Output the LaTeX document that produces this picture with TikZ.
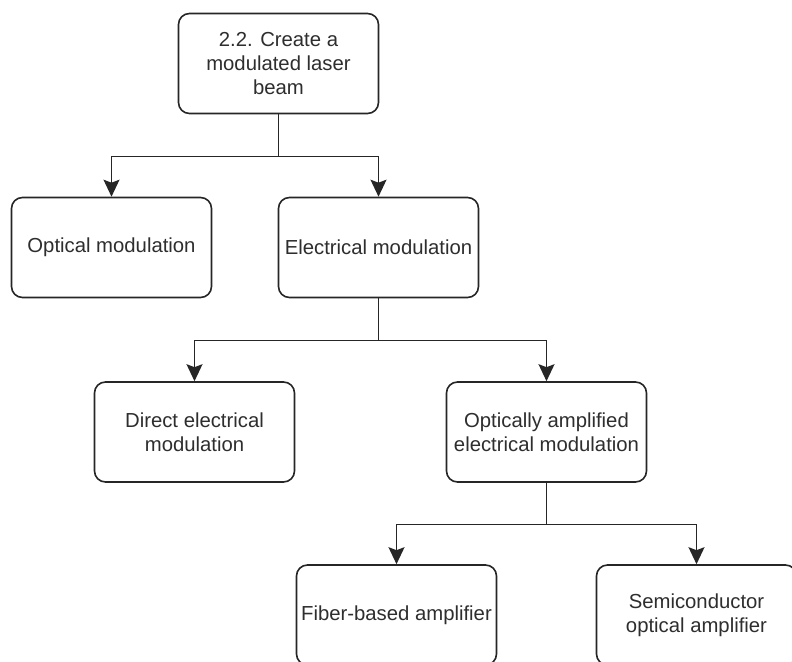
\documentclass[tikz,border=0pt]{standalone}
\usepackage{fontspec}
\setmainfont{Liberation Sans}
\usetikzlibrary{arrows.meta}
\begin{document}
\begin{tikzpicture}[x=1pt,y=-1pt,
  box/.style={draw=black!85,line width=1.6pt,rounded corners=11pt,fill=white,
    minimum width=200pt,minimum height=100pt,inner sep=0pt,align=center,
    text=black!82,font=\fontsize{20.3}{24}\selectfont},
  arr/.style={draw=black!85,line width=1.6pt,-{Stealth[length=17pt,width=16pt,inset=3pt]}}]
\useasboundingbox (0,0) rectangle (792,661);
\begin{scope}
\clip (0,0) rectangle (792,661);
\node[box] (top) at (278.5,63.5) {2.2. Create a\\modulated laser\\beam};
\node[box] (opt) at (111.5,247.5) {Optical modulation};
\node[box] (ele) at (378.5,247.5) {Electrical modulation};
\node[box] (dir) at (194.5,432) {Direct electrical\\modulation};
\node[box] (oae) at (546.5,432) {Optically amplified\\electrical modulation};
\node[box] (fib) at (396.5,615) {Fiber-based amplifier};
\node[box] (soa) at (696.5,615) {Semiconductor\\optical amplifier};

\draw[arr] (top.south) -- ++(0,42) -| (opt.north);
\draw[arr] (top.south) -- ++(0,42) -| (ele.north);
\draw[arr] (ele.south) -- ++(0,42) -| (dir.north);
\draw[arr] (ele.south) -- ++(0,42) -| (oae.north);
\draw[arr] (oae.south) -- ++(0,41.5) -| (fib.north);
\draw[arr] (oae.south) -- ++(0,41.5) -| (soa.north);
\end{scope}
\end{tikzpicture}
\end{document}
